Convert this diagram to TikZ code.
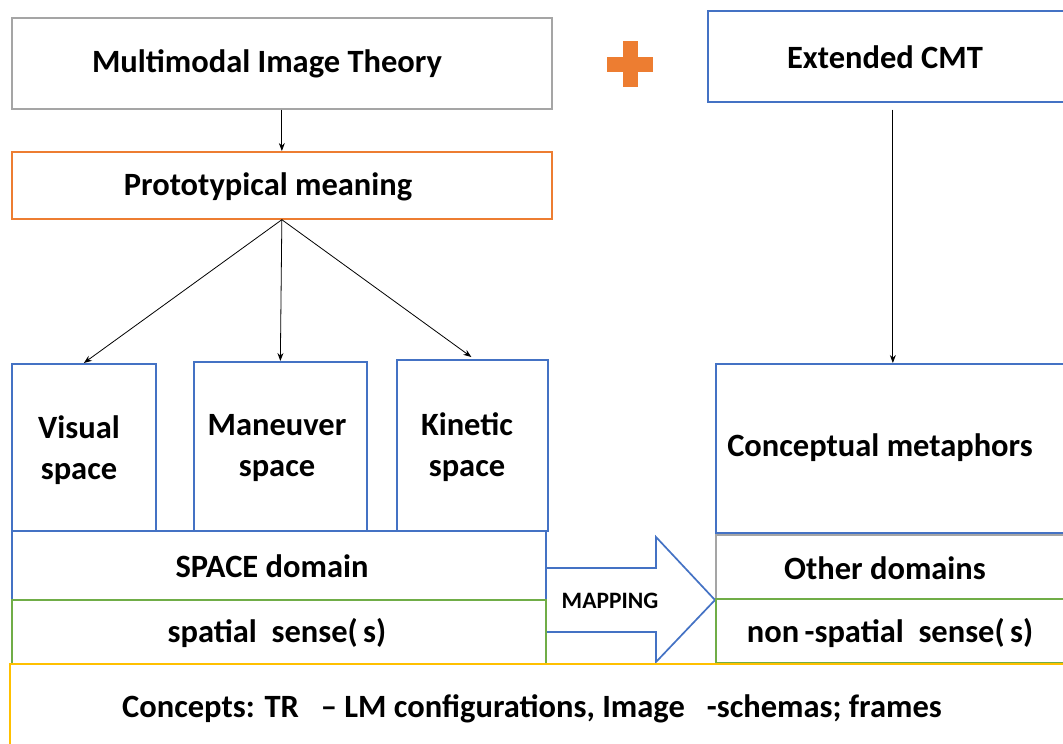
\documentclass[tikz,border=0pt]{standalone}
\usepackage{fontspec}
\setmainfont{Carlito}
\usetikzlibrary{calc,arrows.meta}
\definecolor{cblue}{HTML}{4472C4}
\definecolor{corange}{HTML}{ED7D31}
\definecolor{cgray}{HTML}{A5A5A5}
\definecolor{cgreen}{HTML}{70AD47}
\definecolor{cgold}{HTML}{FFC000}
\tikzset{
  box/.style={draw=#1, line width=1.7pt, fill=white, anchor=north west, inner sep=0pt},
  lbl/.style={font=\fontsize{32.5}{41}\selectfont\bfseries, align=center, inner sep=0pt},
  conn/.style={-{Stealth[length=8pt,width=6pt]}, line width=0.8pt, black},
}
\begin{document}
\begin{tikzpicture}[x=1pt,y=-1pt]
\useasboundingbox (0,0) rectangle (1063,744);
% mapping arrow (behind boxes)
\coordinate (tip) at (715,600);
\filldraw[draw=cblue, fill=white, line width=1.7pt]
  (545,568) -- (656,568) -- (656,537) -- (tip) -- (656,662) -- (656,632) -- (545,632);
% top boxes
\node[box=cgray, minimum width=540, minimum height=91] (mit) at (11,17) {};
\node[lbl] at (267,64) {Multimodal Image Theory};
\node[box=corange, minimum width=540, minimum height=67] (pm) at (11,151) {};
\node[lbl] at (268,187) {Prototypical meaning};
\node[box=cblue, minimum width=360, minimum height=91] (ecmt) at (707,10) {};
\node[lbl] at (885,57) {Extended CMT};
% plus
\fill[corange] (622.5,41) rectangle (637.5,87);
\fill[corange] (607,56.5) rectangle (653,71.5);
% space boxes
\node[box=cblue, minimum width=144, minimum height=167] (vis) at (11,363) {};
\node[lbl] at (79,450) {Visual\\space};
\node[box=cblue, minimum width=173, minimum height=169] (man) at (193,361) {};
\node[lbl] at (277,448) {Maneuver\\space};
\node[box=cblue, minimum width=151, minimum height=171] (kin) at (396,359) {};
\node[lbl] at (467,447) {Kinetic\\space};
\node[box=cblue, minimum width=348, minimum height=169] (cm) at (715,363) {};
\node[lbl] at (880,448) {Conceptual metaphors};
% domains
\node[box=cblue, minimum width=534, minimum height=69] (sd) at (11,530) {};
\node[lbl] at (272,566) {SPACE domain};
\node[box=cgreen, minimum width=534, minimum height=64] (ss) at (11,599) {};
\node[lbl] at (277,633) {spatial\ \ sense(\,s)};
\node[box=cgray, minimum width=348, minimum height=64] (od) at (715,534) {};
\node[lbl] at (885,568) {Other domains};
\node[box=cgreen, minimum width=348, minimum height=64] (ns) at (715,598) {};
\node[lbl] at (890,633) {non\,-spatial\ \ sense(\,s)};
% concepts
\node[box=cgold, minimum width=1060, minimum height=90] (con) at (9,663) {};
\node[lbl] at (532,709) {Concepts: TR\ \ \ -- LM configurations, Image\ \ \ -schemas; frames};
% mapping label
\node[font=\fontsize{23.5}{27}\selectfont\bfseries, inner sep=0pt] (map) at (610,601) {MAPPING};
% connectors
\draw[conn] (mit.south) -- (pm.north);
\draw[conn] (pm.south) -- (vis.north);
\draw[conn] (pm.south) -- (man.north);
\draw[conn] (pm.south) -- ($(kin.north)+(-1,-2)$);
\draw[conn] ($(cm.north |- ecmt.south)+(3,7)$) -- ($(cm.north)+(3,0)$);
\end{tikzpicture}
\end{document}
